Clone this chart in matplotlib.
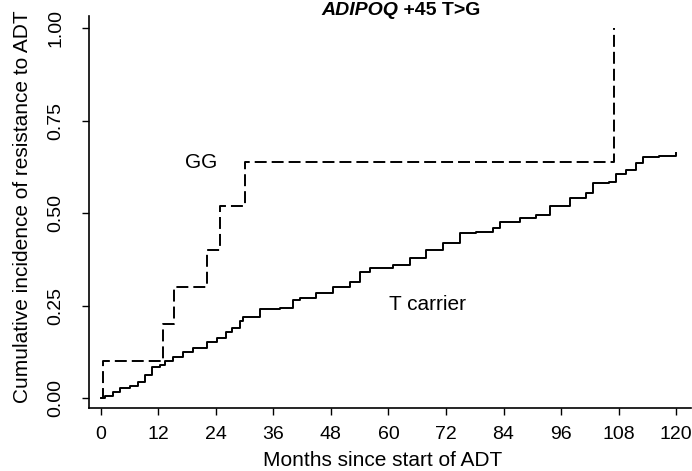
import matplotlib
matplotlib.use("Agg")
import matplotlib.pyplot as plt

plt.rcParams['font.family'] = ['Liberation Sans', 'DejaVu Sans']
plt.rcParams['lines.scale_dashes'] = False

# ---- data ----
gg_times = [0, 0.54, 12.9, 15.3, 22.1, 24.9, 30.0, 107.0]
gg_values = [0, 0.10, 0.20, 0.30, 0.40, 0.52, 0.64, 1.00]

t_times = [0, 0.9, 2.6, 4.0, 6.1, 7.8, 9.2, 10.6, 12.4, 13.4, 15.1, 17.2, 19.3,
           22.1, 24.2, 26.2, 27.3, 29.0, 29.7, 33.2, 37.4, 40.1, 41.5, 45.0,
           48.5, 51.9, 54.0, 56.1, 60.9, 64.4, 67.9, 71.4, 74.9, 78.3, 81.8,
           83.2, 87.4, 90.8, 93.6, 97.8, 101.3, 102.6, 106.1, 107.5, 109.6,
           111.7, 113.0, 116.5, 120.0]
t_values = [0, 0.008, 0.018, 0.028, 0.034, 0.045, 0.063, 0.086, 0.090, 0.100,
            0.113, 0.125, 0.136, 0.152, 0.164, 0.180, 0.190, 0.208, 0.221,
            0.241, 0.244, 0.266, 0.271, 0.286, 0.300, 0.316, 0.343, 0.352,
            0.361, 0.379, 0.401, 0.419, 0.446, 0.451, 0.460, 0.478, 0.487,
            0.496, 0.520, 0.541, 0.555, 0.582, 0.586, 0.606, 0.618, 0.636,
            0.652, 0.654, 0.663]

x_ticks = [0, 12, 24, 36, 48, 60, 72, 84, 96, 108, 120]
y_ticks = [0.00, 0.25, 0.50, 0.75, 1.00]
y_tick_labels = ["0.00", "0.25", "0.50", "0.75", "1.00"]

W, H = 692, 471
fig = plt.figure(figsize=(W / 100, H / 100), dpi=100)
ax = fig.add_axes([89 / W, (H - 408) / H, (691 - 89) / W, (408 - 16) / H])

ax.step(t_times, t_values, where='post', color='black', lw=1.4)
ax.step(gg_times, gg_values, where='post', color='black', lw=1.4,
        linestyle=(0, (8.6, 3.6)))

ax.set_xlim(-2.44, 123.1)
ax.set_ylim(-0.0257, 1.0332)

for s in ['top', 'right']:
    ax.spines[s].set_visible(False)
for s in ['left', 'bottom']:
    ax.spines[s].set_linewidth(1.2)

ax.set_xticks(x_ticks)
ax.set_xticklabels([str(v) for v in x_ticks])
ax.set_yticks(y_ticks)
ax.set_yticklabels(y_tick_labels, rotation=90, va='center')
ax.tick_params(axis='both', direction='out', length=5, width=1.0,
               labelsize=14, colors='black')
ax.tick_params(axis='x', pad=8)
ax.tick_params(axis='y', pad=13)

ax.text(21.0, 0.638, "GG", fontsize=15, ha='center', va='center')
ax.text(68.2, 0.255, "T carrier", fontsize=15, ha='center', va='center')

fig.text(23 / W, 1 - 207 / H, "Cumulative incidence of resistance to ADT",
         rotation=90, ha='center', va='center', fontsize=15)
fig.text(383 / W, 1 - 460 / H, "Months since start of ADT",
         ha='center', va='center', fontsize=15)

t1 = fig.text(321 / W, 1 - 15 / H, "ADIPOQ", fontsize=14, fontweight='bold',
              fontstyle='italic', ha='left', va='baseline')
ax.annotate(" +45 T>G", xy=(1, 0), xycoords=t1, fontsize=14,
            fontweight='bold', ha='left', va='bottom',
            annotation_clip=False)

fig.savefig("out.png", dpi=100)
